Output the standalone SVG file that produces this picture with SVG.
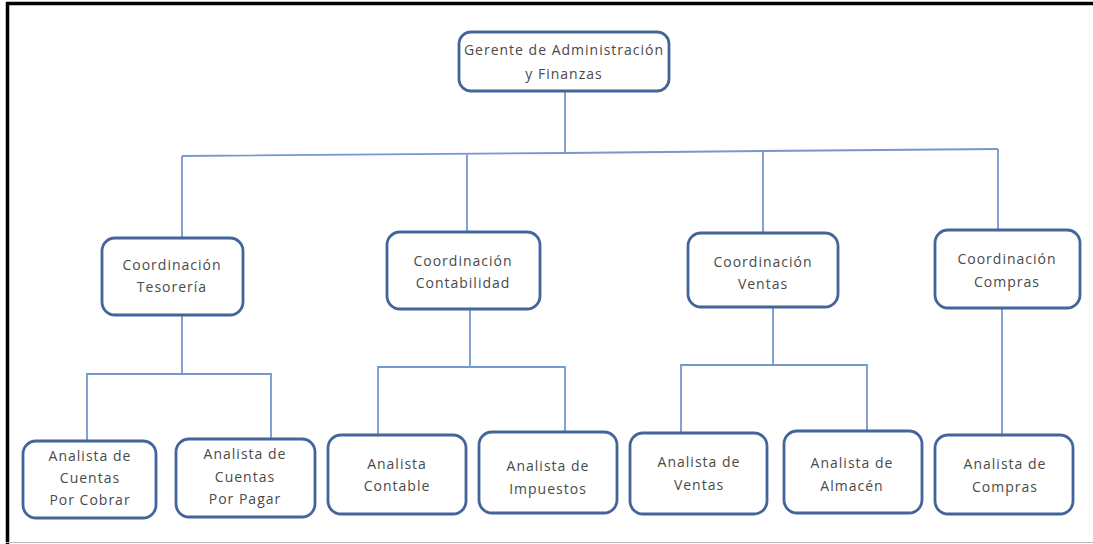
<svg xmlns="http://www.w3.org/2000/svg" width="1093" height="544" viewBox="0 0 1093 544">
  <style>
    .box { fill: #ffffff; stroke: #43659a; stroke-width: 2.8; }
    .lbl { font-family: "Open Sans", "Noto Sans", "DejaVu Sans", sans-serif; font-size: 14px; fill: #4a4a4a; text-anchor: middle; letter-spacing: 1px; }
    .link { fill: none; stroke: #7499cf; stroke-width: 1.8; }
  </style>
  <rect x="0" y="0" width="1093" height="544" fill="#ffffff"/>
  <!-- page frame -->
  <path d="M7.5 544 V3.5 H1093" fill="none" stroke="#000000" stroke-width="3.5"/>
  <line x1="6" y1="542.5" x2="1093" y2="542.5" stroke="#b8b8b8" stroke-width="1"/>

  <g id="connectors">
    <line class="link" x1="565" y1="91" x2="565" y2="153"/>
    <polyline class="link" points="182,156 565,153 763,151 998,149"/>
    <line class="link" x1="182" y1="156" x2="182" y2="238"/>
    <line class="link" x1="467" y1="154.5" x2="467" y2="232"/>
    <line class="link" x1="763" y1="151" x2="763" y2="233"/>
    <line class="link" x1="998" y1="149" x2="998" y2="230"/>

    <line class="link" x1="182" y1="315" x2="182" y2="374"/>
    <polyline class="link" points="87,440 87,374 271,374 271,438"/>

    <line class="link" x1="470" y1="309" x2="470" y2="367"/>
    <polyline class="link" points="378,434 378,367 565,367 565,432"/>

    <line class="link" x1="773" y1="307" x2="773" y2="365"/>
    <polyline class="link" points="681,432 681,365 867,365 867,430"/>

    <line class="link" x1="1002" y1="308" x2="1002" y2="435"/>
  </g>

  <g id="gerente">
    <rect class="box" x="459" y="32" width="210" height="59" rx="12"/>
    <text class="lbl" x="564" y="55">Gerente de Administración</text>
    <text class="lbl" x="564" y="79">y Finanzas</text>
  </g>

  <g id="coord-tesoreria">
    <rect class="box" x="102" y="238" width="141" height="77" rx="13"/>
    <text class="lbl" x="172" y="270">Coordinación</text>
    <text class="lbl" x="172" y="292">Tesorería</text>
  </g>
  <g id="coord-contabilidad">
    <rect class="box" x="387" y="232" width="153" height="77" rx="13"/>
    <text class="lbl" x="463" y="266">Coordinación</text>
    <text class="lbl" x="463" y="288">Contabilidad</text>
  </g>
  <g id="coord-ventas">
    <rect class="box" x="688" y="233" width="150" height="74" rx="13"/>
    <text class="lbl" x="763" y="267">Coordinación</text>
    <text class="lbl" x="763" y="289">Ventas</text>
  </g>
  <g id="coord-compras">
    <rect class="box" x="935" y="230" width="145" height="78" rx="13"/>
    <text class="lbl" x="1007" y="264">Coordinación</text>
    <text class="lbl" x="1007" y="287">Compras</text>
  </g>

  <g id="analista-cobrar">
    <rect class="box" x="23" y="441" width="133" height="77" rx="13"/>
    <text class="lbl" x="90" y="461">Analista de</text>
    <text class="lbl" x="90" y="483">Cuentas</text>
    <text class="lbl" x="90" y="505">Por Cobrar</text>
  </g>
  <g id="analista-pagar">
    <rect class="box" x="176" y="439" width="139" height="78" rx="13"/>
    <text class="lbl" x="245" y="459">Analista de</text>
    <text class="lbl" x="245" y="482">Cuentas</text>
    <text class="lbl" x="245" y="504">Por Pagar</text>
  </g>
  <g id="analista-contable">
    <rect class="box" x="328" y="435" width="138" height="79" rx="13"/>
    <text class="lbl" x="397" y="469">Analista</text>
    <text class="lbl" x="397" y="491">Contable</text>
  </g>
  <g id="analista-impuestos">
    <rect class="box" x="479" y="432" width="138" height="81" rx="13"/>
    <text class="lbl" x="548" y="471">Analista de</text>
    <text class="lbl" x="548" y="494">Impuestos</text>
  </g>
  <g id="analista-ventas">
    <rect class="box" x="630" y="433" width="137" height="81" rx="13"/>
    <text class="lbl" x="699" y="467">Analista de</text>
    <text class="lbl" x="699" y="490">Ventas</text>
  </g>
  <g id="analista-almacen">
    <rect class="box" x="784" y="431" width="138" height="82" rx="13"/>
    <text class="lbl" x="852" y="468">Analista de</text>
    <text class="lbl" x="852" y="491">Almacén</text>
  </g>
  <g id="analista-compras">
    <rect class="box" x="935" y="435" width="138" height="79" rx="13"/>
    <text class="lbl" x="1005" y="469">Analista de</text>
    <text class="lbl" x="1005" y="492">Compras</text>
  </g>
</svg>
